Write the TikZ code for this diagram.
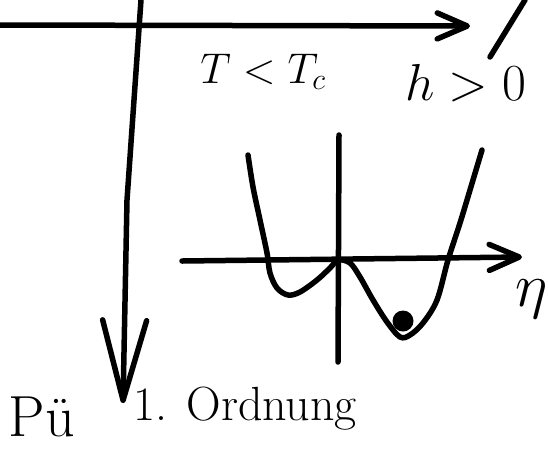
\RequirePackage{fix-cm}
\documentclass[tikz,border=0pt]{standalone}
\usetikzlibrary{arrows.meta}
\tikzset{
  pen/.style={line width=5.5pt, line cap=round, line join=round},
  barb/.style={-{Straight Barb[#1, round]}},
  hand/.style={inner sep=0pt, font=\fontsize{50}{60}\selectfont},
}
\begin{document}
\begin{tikzpicture}[x=1pt, y=-1pt]
  \useasboundingbox (0,0) rectangle (548,451);
  % phase diagram axes (h to the right, T downwards)
  \coordinate (hl) at (0,25);
  \coordinate (hr) at (470,26);
  \coordinate (vt) at (141,0);
  \coordinate (vm) at (127,200);
  \coordinate (vb) at (123,403);
  \draw[pen, barb={length=30pt, width=26pt}] (hl) -- (hr);
  \draw[pen, barb={length=80pt, width=44pt}] (vt) -- (vm) -- (vb);
  \coordinate (st) at (525,0);
  \coordinate (sb) at (490,57);
  \draw[pen] (st) -- (sb);
  % labels of the region
  \node[hand, font=\fontsize{43}{52}\selectfont, anchor=base] (tc) at (263,83) {$T<T_c$};
  \node[hand, font=\fontsize{52}{62}\selectfont, anchor=base] (hf) at (466,100) {$h>0$};
  % tilted potential over eta
  \coordinate (xl) at (182,261);
  \coordinate (xr) at (522,257);
  \coordinate (yt) at (339,135);
  \coordinate (yb) at (338,362);
  \draw[pen, barb={length=30pt, width=26pt}] (xl) -- (xr);
  \draw[pen] (yt) -- (yb);
  \draw[pen] plot[smooth, tension=0.55] coordinates {
    (248,155) (253,187) (260,220) (267,253) (270,273) (277,288) (288,295)
    (300,292) (317,280) (330,268) (338,260) (350,263) (360,277) (373,300)
    (387,322) (400,337) (410,335) (423,323) (437,300) (448,260) (460,223)
    (470,190) (482,150)};
  \node[circle, fill, minimum size=21pt, inner sep=0pt] (ball) at (403,321) {};
  \node[hand, font=\fontsize{62}{72}\selectfont, anchor=base] (eta) at (532,306) {$\eta$};
  % bottom labels
  \node[hand, font=\fontsize{58}{68}\selectfont, anchor=base] (pue) at (42,436) {Pü};
  \node[hand, font=\fontsize{48}{58}\selectfont, anchor=base west] (ord) at (133,420) {1. Ordnung};
\end{tikzpicture}
\end{document}
